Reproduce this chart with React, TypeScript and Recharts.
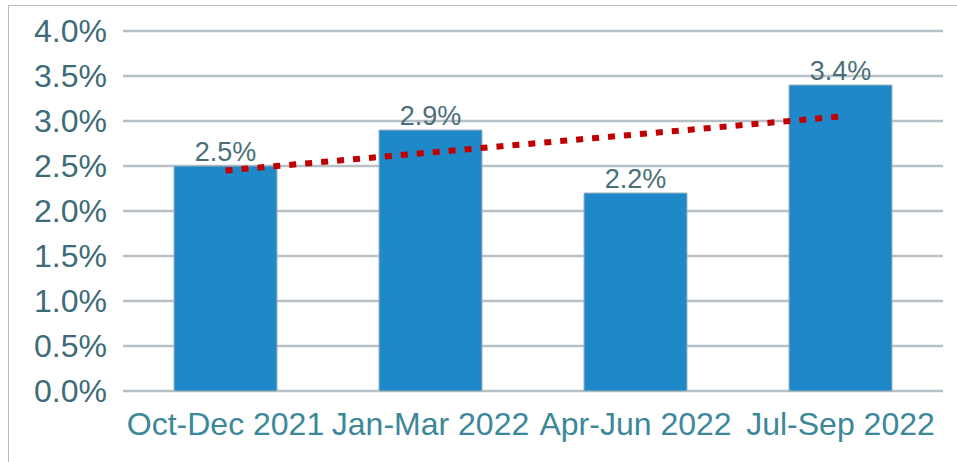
import {
  ComposedChart,
  Bar,
  Line,
  XAxis,
  YAxis,
  CartesianGrid,
  LabelList,
} from 'recharts'

const quarters = ['Oct-Dec 2021', 'Jan-Mar 2022', 'Apr-Jun 2022', 'Jul-Sep 2022']
const rates = [2.5, 2.9, 2.2, 3.4]
// linear trend
const trend = [2.45, 2.65, 2.85, 3.05]
const yTicks = [0, 0.5, 1, 1.5, 2, 2.5, 3, 3.5, 4]

const FONT = '"Liberation Sans", Arial, sans-serif'

export default function App() {
  const chartData = quarters.map((q, i) => ({
    name: q,
    rate: rates[i],
    trend: trend[i],
  }))

  return (
    <div
      style={{
        position: 'absolute',
        left: 8,
        top: 5,
        width: 949,
        height: 457,
        borderTop: '1.5px solid #b4c0c4',
        borderLeft: '1.5px solid #b4c0c4',
        boxSizing: 'border-box',
        background: '#fff',
      }}
    >
      <ComposedChart
        width={949}
        height={457}
        data={chartData}
        margin={{ top: 26, right: 14, left: -2, bottom: 0 }}
        style={{ position: 'absolute', left: -1.5, top: -1.5 }}
      >
        <CartesianGrid vertical={false} stroke="#b7c1c5" strokeWidth={2.5} />
        <XAxis
          dataKey="name"
          axisLine={false}
          tickLine={false}
          tickSize={0}
          tickMargin={21}
          height={71}
          interval={0}
          tick={{ fill: '#3c8798', fontSize: 32, fontFamily: FONT }}
        />
        <YAxis
          domain={[0, 4]}
          ticks={yTicks}
          axisLine={false}
          tickLine={false}
          tickSize={0}
          tickMargin={16}
          width={117}
          tickFormatter={(v: number) => `${v.toFixed(1)}%`}
          tick={{ fill: '#3d6c78', fontSize: 32, fontFamily: FONT }}
        />
        <Bar
          dataKey="rate"
          fill="#1e88c8"
          stroke="#9fb2bb"
          strokeWidth={1}
          barSize={103}
          isAnimationActive={false}
        >
          <LabelList
            dataKey="rate"
            position="top"
            offset={5}
            formatter={(v: number) => `${v.toFixed(1)}%`}
            style={{ fill: '#4a6f79', fontSize: 27, fontFamily: FONT }}
          />
        </Bar>
        <Line
          dataKey="trend"
          stroke="#c00000"
          strokeWidth={6}
          strokeDasharray="7 9"
          dot={false}
          activeDot={false}
          isAnimationActive={false}
        />
      </ComposedChart>
    </div>
  )
}
